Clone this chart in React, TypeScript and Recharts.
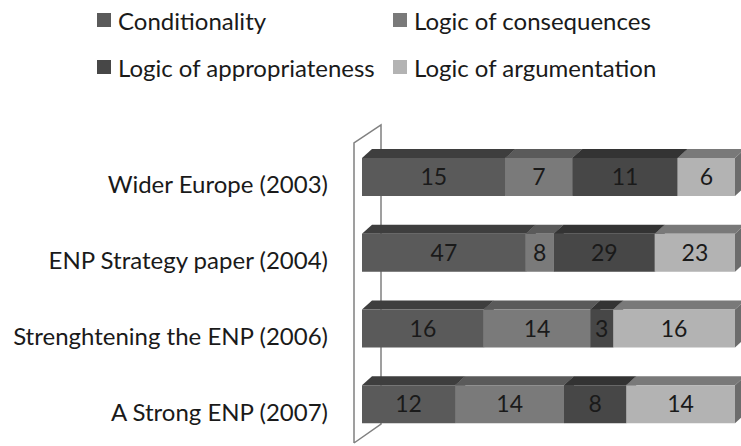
import { BarChart, Bar, XAxis, YAxis, Legend, LabelList, usePlotArea } from 'recharts'

const categories = [
  'Wider Europe (2003)',
  'ENP Strategy paper (2004)',
  'Strenghtening the ENP (2006)',
  'A Strong ENP (2007)',
]
const conditionality = [15, 47, 16, 12]
const consequences = [7, 8, 14, 14]
const appropriateness = [11, 29, 3, 8]
const argumentation = [6, 23, 16, 14]

const seriesNames = ['Conditionality', 'Logic of consequences', 'Logic of appropriateness', 'Logic of argumentation']

// 100% stacked: share of each row total, raw counts kept for the labels
const data = categories.map((name, i) => {
  const total = conditionality[i] + consequences[i] + appropriateness[i] + argumentation[i]
  return {
    name,
    conditionality: (conditionality[i] / total) * 100,
    consequences: (consequences[i] / total) * 100,
    appropriateness: (appropriateness[i] / total) * 100,
    argumentation: (argumentation[i] / total) * 100,
    conditionalityN: conditionality[i],
    consequencesN: consequences[i],
    appropriatenessN: appropriateness[i],
    argumentationN: argumentation[i],
  }
})

// front / top / side colours for each series
const series = [
  { key: 'conditionality', name: seriesNames[0], front: '#5a5a5a', top: '#3e3e3e', side: '#3a3a3a' },
  { key: 'consequences', name: seriesNames[1], front: '#7a7a7a', top: '#5a5a5a', side: '#555555' },
  { key: 'appropriateness', name: seriesNames[2], front: '#474747', top: '#333333', side: '#2e2e2e' },
  { key: 'argumentation', name: seriesNames[3], front: '#b3b3b3', top: '#797979', side: '#6c6c6c' },
]

const DX = 10
const DY = 9
const FONT = 'Lato, "Noto Sans", sans-serif'

const make3dShape = (front: string, top: string, side: string) => (props: any) => {
  const { x, y, width, height } = props
  if (!width || width <= 0) return <g />
  return (
    <g>
      <polygon
        points={`${x},${y} ${x + DX},${y - DY} ${x + width + DX},${y - DY} ${x + width},${y}`}
        fill={top}
      />
      <polygon
        points={`${x + width},${y} ${x + width + DX},${y - DY} ${x + width + DX},${y + height - DY} ${x + width},${y + height}`}
        fill={side}
      />
      <rect x={x} y={y} width={width} height={height} fill={front} />
    </g>
  )
}

const CategoryTick = ({ y, payload }: any) => (
  <text x={328} y={y + 7} textAnchor="end" dominantBaseline="central" fontSize={24} fontFamily={FONT} fill="#1a1a1a">
    {payload.value}
  </text>
)

// the thin side wall Excel draws behind the category axis
const Wall = () => {
  const plot = usePlotArea()
  if (!plot) return null
  const fx = plot.x - 8
  const bx = plot.x + 19
  const top = plot.y
  const bottom = plot.y + plot.height
  return (
    <g stroke="#808080" strokeWidth={1.5} fill="none">
      <polyline points={`${fx},${bottom + 1} ${fx},${top + 4} ${bx},${top - 14} ${bx},${bottom - 18} ${fx},${bottom + 1}`} />
    </g>
  )
}

const LegendContent = () => {
  const cols = [97, 393]
  const rows = [20, 67]
  return (
    <div style={{ position: 'relative', width: 741, height: 95 }}>
      {series.map((s, i) => {
        const left = cols[i % 2]
        const cy = rows[Math.floor(i / 2)]
        return (
          <div key={s.key} style={{ position: 'absolute', left, top: cy - 14, height: 28, display: 'flex', alignItems: 'center', whiteSpace: 'nowrap' }}>
            <span style={{ display: 'inline-block', width: 14, height: 14, background: s.front, marginRight: 7 }} />
            <span style={{ fontFamily: FONT, fontSize: 24, color: '#1a1a1a' }}>{s.name}</span>
          </div>
        )
      })}
    </div>
  )
}

export default function App() {
  return (
    <div style={{ position: 'absolute', left: 0, top: 0, width: 741, height: 446, background: '#fff', overflow: 'hidden' }}>
      <BarChart
        width={741}
        height={446}
        data={data}
        layout="vertical"
        margin={{ top: 139, right: 6, bottom: 4, left: 0 }}
      >
        <XAxis type="number" domain={[0, 100]} hide />
        <YAxis type="category" dataKey="name" width={362} axisLine={false} tickLine={false} tick={<CategoryTick />} />
        <Legend
          layout="horizontal"
          verticalAlign="middle"
          align="center"
          wrapperStyle={{ top: 0, left: 0, width: 741, height: 95 }}
          content={<LegendContent />}
        />
        <Wall />
        {series.map((s) => (
          <Bar
            key={s.key}
            dataKey={s.key}
            name={s.name}
            stackId="a"
            barSize={38}
            fill={s.front}
            isAnimationActive={false}
            shape={make3dShape(s.front, s.top, s.side)}
          >
            <LabelList dataKey={s.key + 'N'} position="center" fill="#1a1a1a" fontSize={23} fontFamily={FONT} />
          </Bar>
        ))}
      </BarChart>
    </div>
  )
}
